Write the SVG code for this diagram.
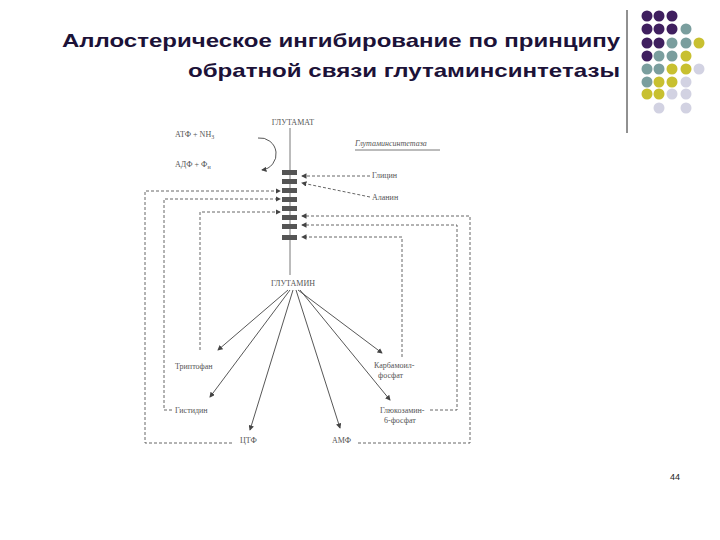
<svg xmlns="http://www.w3.org/2000/svg" width="720" height="540" viewBox="0 0 720 540">
<style>
.t{font-family:"Liberation Sans",Arial,sans-serif;font-weight:bold;font-size:19px;fill:#1c1238}
.s{font-family:"Liberation Serif","Times New Roman",serif;font-size:8px;fill:#555}
.d{fill:none;stroke:#555;stroke-width:0.9;stroke-dasharray:3,2}
.a{fill:none;stroke:#444;stroke-width:0.9;marker-end:url(#ar)}
.P{fill:#3f1f5f}.T{fill:#7a9e9e}.Y{fill:#c8c030}.L{fill:#d2d2e2}
</style>
<defs><marker id="ar" markerWidth="6" markerHeight="6" refX="5" refY="3" orient="auto"><path d="M0,0L6,3L0,6z" fill="#444"/></marker></defs>
<rect width="720" height="540" fill="#fff"/>
<text class="t" x="62" y="47" textLength="558" lengthAdjust="spacingAndGlyphs">Аллостерическое ингибирование по принципу</text>
<text class="t" x="188" y="77" textLength="432" lengthAdjust="spacingAndGlyphs">обратной связи глутаминсинтетазы</text>
<line x1="627" y1="10" x2="627" y2="133" stroke="#222" stroke-width="1"/>
<g id="dots">
<circle class="P" cx="647" cy="16" r="5.5"/><circle class="P" cx="659" cy="16" r="5.5"/><circle class="P" cx="672" cy="16" r="5.5"/>
<circle class="P" cx="647" cy="29" r="5.5"/><circle class="P" cx="659" cy="29" r="5.5"/><circle class="P" cx="672" cy="29" r="5.5"/><circle class="T" cx="686" cy="29" r="5.5"/>
<circle class="P" cx="647" cy="43" r="5.5"/><circle class="P" cx="659" cy="43" r="5.5"/><circle class="T" cx="672" cy="43" r="5.5"/><circle class="T" cx="686" cy="43" r="5.5"/><circle class="Y" cx="699" cy="43" r="5.5"/>
<circle class="P" cx="647" cy="56" r="5.5"/><circle class="T" cx="659" cy="56" r="5.5"/><circle class="T" cx="672" cy="56" r="5.5"/><circle class="Y" cx="686" cy="56" r="5.5"/>
<circle class="T" cx="647" cy="69" r="5.5"/><circle class="T" cx="659" cy="69" r="5.5"/><circle class="Y" cx="672" cy="69" r="5.5"/><circle class="Y" cx="686" cy="69" r="5.5"/><circle class="L" cx="699" cy="69" r="5.5"/>
<circle class="T" cx="647" cy="82" r="5.5"/><circle class="Y" cx="659" cy="82" r="5.5"/><circle class="Y" cx="672" cy="82" r="5.5"/><circle class="L" cx="686" cy="82" r="5.5"/>
<circle class="Y" cx="647" cy="94" r="5.5"/><circle class="Y" cx="659" cy="94" r="5.5"/><circle class="L" cx="672" cy="94" r="5.5"/><circle class="L" cx="686" cy="94" r="5.5"/>
<circle class="L" cx="659" cy="108" r="5.5"/><circle class="L" cx="686" cy="108" r="5.5"/>
</g>
<g id="enzyme">
<text class="s" x="293" y="125" text-anchor="middle">ГЛУТАМАТ</text>
<line x1="290" y1="128" x2="290" y2="275" stroke="#555" stroke-width="0.8"/>
<g fill="#555"><rect x="282" y="170" width="15" height="5"/><rect x="282" y="179" width="15" height="5"/><rect x="282" y="188" width="15" height="5"/><rect x="282" y="197" width="15" height="5"/><rect x="282" y="206" width="15" height="5"/><rect x="282" y="215" width="15" height="5"/><rect x="282" y="224" width="15" height="5"/><rect x="282" y="235" width="15" height="5"/></g>
<path d="M258,138 A16,16 0 1 1 262,170" class="a"/>
<text class="s" x="175" y="137">АТФ + NH<tspan font-size="6" dy="2">3</tspan></text>
<text class="s" x="175" y="167">АДФ + Ф<tspan font-size="6" dy="2">н</tspan></text>
<text class="s" x="355" y="146" font-style="italic">Глутаминсинтетаза</text>
<line x1="355" y1="150" x2="440" y2="150" stroke="#555" stroke-width="0.8"/>
<text class="s" x="293" y="286" text-anchor="middle">ГЛУТАМИН</text>
</g>
<g id="products" class="s">
<text x="175" y="369">Триптофан</text>
<text x="175" y="413">Гистидин</text>
<text x="240" y="443">ЦТФ</text>
<text x="332" y="443">АМФ</text>
<text x="374" y="368">Карбамоил-</text><text x="378" y="378">фосфат</text>
<text x="380" y="413">Глюкозамин-</text><text x="384" y="423">6-фосфат</text>
<text x="372" y="178">Глицин</text>
<text x="372" y="200">Аланин</text>
</g>
<g id="connectors">
<line class="a" x1="288" y1="290" x2="218" y2="350"/>
<line class="a" x1="290" y1="290" x2="210" y2="397"/>
<line class="a" x1="293" y1="290" x2="250" y2="430"/>
<line class="a" x1="296" y1="290" x2="340" y2="428"/>
<line class="a" x1="298" y1="290" x2="382" y2="353"/>
<line class="a" x1="300" y1="290" x2="390" y2="400"/>
<path class="d" d="M370,176H302" marker-end="url(#ar)"/>
<path class="d" d="M370,197L302,183" marker-end="url(#ar)"/>
<path class="d" d="M232,443H145V191H280" marker-end="url(#ar)"/>
<path class="d" d="M172,410H164V199H280" marker-end="url(#ar)"/>
<path class="d" d="M200,350V212H280" marker-end="url(#ar)"/>
<path class="d" d="M358,443H470V216H302" marker-end="url(#ar)"/>
<path class="d" d="M430,410H457V225H302" marker-end="url(#ar)"/>
<path class="d" d="M402,357V237H302" marker-end="url(#ar)"/>
</g>
<text x="670" y="480" font-family="Liberation Sans,Arial,sans-serif" font-size="9" fill="#222">44</text>
</svg>
